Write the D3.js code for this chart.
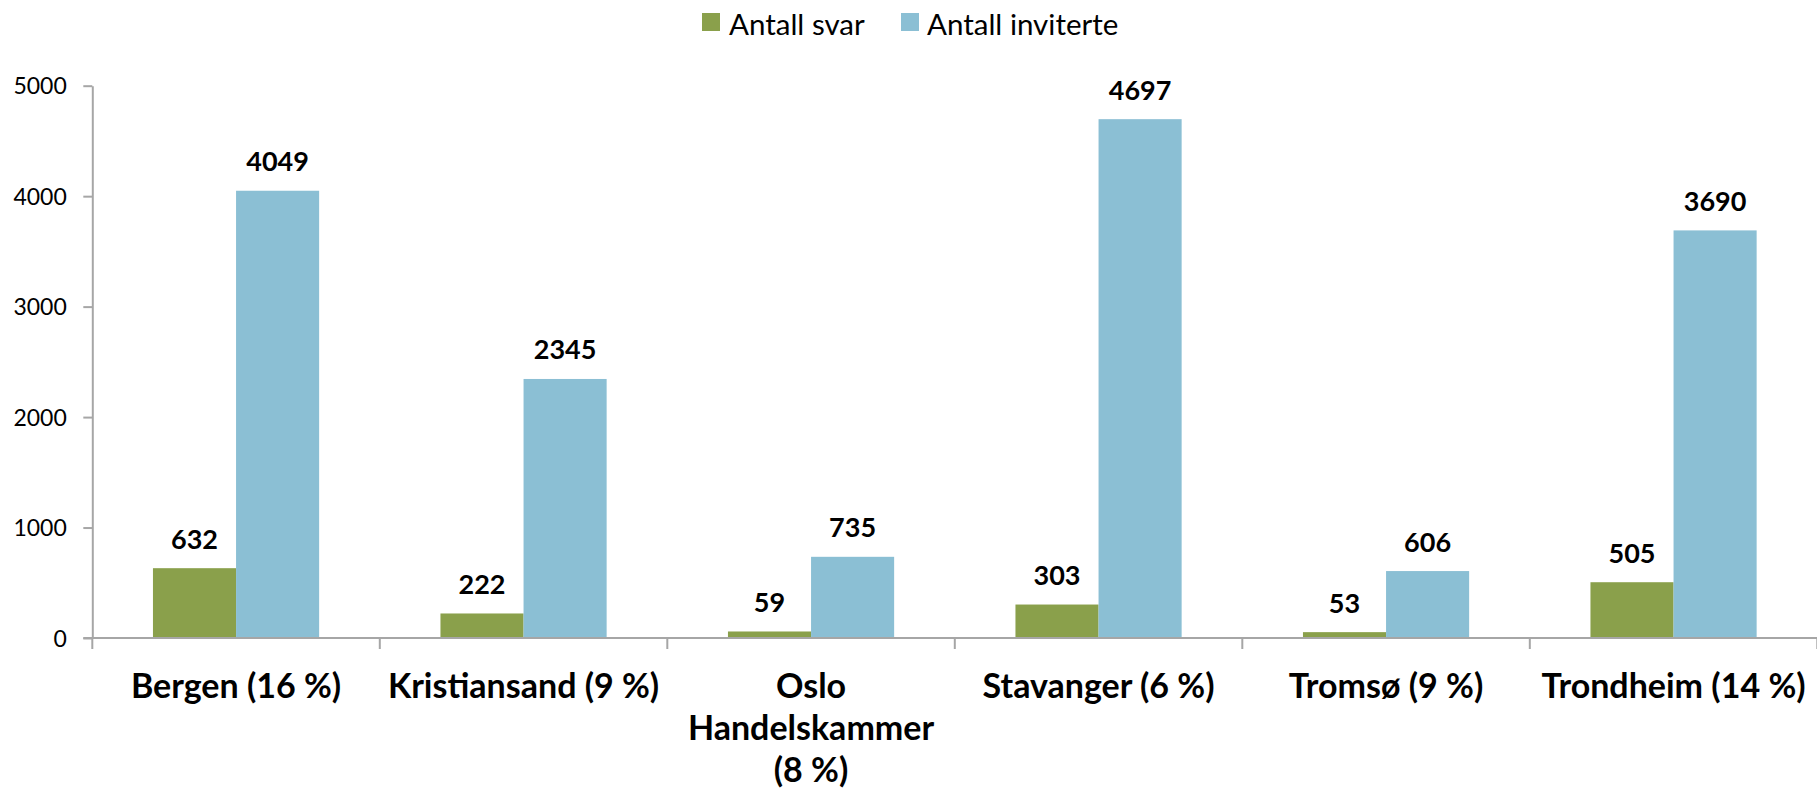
<!DOCTYPE html>
<html>
<head>
<meta charset="utf-8">
<script src="https://cdn.jsdelivr.net/npm/d3@7"></script>
<style>
  html, body { margin: 0; padding: 0; background: #fff; }
  svg { display: block; font-family: Lato, "Open Sans", sans-serif; }
</style>
</head>
<body>
<svg id="chart" width="1817" height="792"></svg>
<script>
// ---- data ----
const categories = ["Bergen (16 %)", "Kristiansand (9 %)", "Oslo\nHandelskammer\n(8 %)", "Stavanger (6 %)", "Tromsø (9 %)", "Trondheim (14 %)"];
const seriesNames = ["Antall svar", "Antall inviterte"];
const antallSvar = [632, 222, 59, 303, 53, 505];
const antallInviterte = [4049, 2345, 735, 4697, 606, 3690];
const yTicks = [0, 1000, 2000, 3000, 4000, 5000];
const colors = ["#8aa04b", "#8bbfd4"];

// ---- layout ----
const svg = d3.select("#chart");
const plotLeft = 92.3, plotRight = 1817.3, plotTop = 85.7, plotBottom = 638;

const x0 = d3.scaleBand().domain(categories).range([plotLeft, plotRight]).paddingInner(0).paddingOuter(0);
const x1 = d3.scaleBand().domain(seriesNames).range([0, x0.bandwidth()]).paddingInner(0).paddingOuter(0.73);
const y = d3.scaleLinear().domain([0, 5000]).range([plotBottom, plotTop]);

const values = [antallSvar, antallInviterte];
const rows = categories.map((c, i) => ({ cat: c, vals: seriesNames.map((s, j) => ({ s, j, v: values[j][i] })) }));

// bars
const g = svg.append("g");
const groups = g.selectAll("g.cat").data(rows).join("g")
  .attr("transform", d => `translate(${x0(d.cat)},0)`);
groups.selectAll("rect").data(d => d.vals).join("rect")
  .attr("x", d => x1(d.s))
  .attr("width", x1.bandwidth())
  .attr("y", d => y(d.v))
  .attr("height", d => y(0) - y(d.v))
  .attr("fill", d => colors[d.j]);

// data labels
groups.selectAll("text.val").data(d => d.vals).join("text")
  .attr("class", "val")
  .attr("x", d => x1(d.s) + x1.bandwidth() / 2)
  .attr("y", d => y(d.v) - 19.5)
  .attr("text-anchor", "middle")
  .attr("font-weight", "bold")
  .attr("font-size", 27)
  .attr("fill", "#000")
  .text(d => d.v);

// y axis
const yAxis = d3.axisLeft(y).tickValues(yTicks).tickSize(9).tickSizeOuter(0).tickFormat(d3.format("d"));
const ya = svg.append("g").attr("transform", `translate(${plotLeft},0)`).call(yAxis);
ya.select(".domain").attr("stroke", "#a6a6a6").attr("stroke-width", 2);
ya.selectAll(".tick line").attr("stroke", "#a6a6a6").attr("stroke-width", 2);
ya.selectAll(".tick text").attr("font-size", 23).attr("font-family", "Lato, sans-serif")
  .attr("fill", "#000").attr("x", -25.5).attr("dy", "0.36em");

// x axis: line with ticks at category boundaries
const boundaries = categories.map(c => x0(c)).concat([x0(categories[categories.length - 1]) + x0.bandwidth()]);
svg.append("line").attr("x1", plotLeft - 9).attr("x2", plotRight).attr("y1", plotBottom).attr("y2", plotBottom)
  .attr("stroke", "#a6a6a6").attr("stroke-width", 2);
svg.selectAll("line.xt").data(boundaries).join("line").attr("class", "xt")
  .attr("x1", d => d).attr("x2", d => d).attr("y1", plotBottom).attr("y2", plotBottom + 11)
  .attr("stroke", "#a6a6a6").attr("stroke-width", 2);

// category labels
const catLabels = svg.selectAll("text.cat").data(categories).join("text")
  .attr("class", "cat")
  .attr("text-anchor", "middle")
  .attr("font-weight", "bold")
  .attr("font-size", 34)
  .attr("fill", "#000");
catLabels.each(function (d) {
  const t = d3.select(this);
  d.split("\n").forEach((line, k) => {
    t.append("tspan").attr("x", x0(d) + x0.bandwidth() / 2).attr("y", 697.5 + k * 42.3).text(line);
  });
});

// legend
const legendItems = [{ name: seriesNames[0], sx: 702, tx: 729 }, { name: seriesNames[1], sx: 901, tx: 927 }];
const lg = svg.selectAll("g.leg").data(legendItems).join("g").attr("class", "leg");
lg.append("rect").attr("x", d => d.sx).attr("y", 13).attr("width", 18).attr("height", 18)
  .attr("fill", (d, i) => colors[i]);
lg.append("text").attr("x", d => d.tx).attr("y", 35).attr("font-size", 29.5).attr("fill", "#000").text(d => d.name);
</script>
</body>
</html>
